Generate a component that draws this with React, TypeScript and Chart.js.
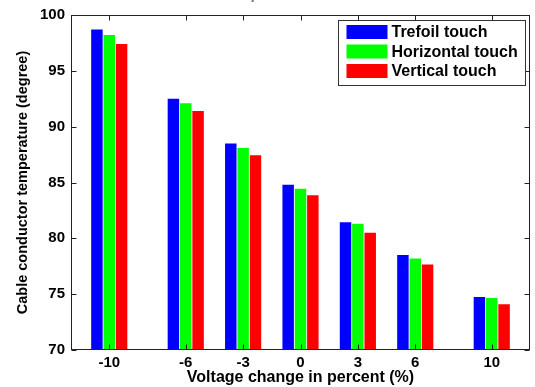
import React, { useEffect, useRef } from 'react';
import { Chart, registerables } from 'chart.js';

Chart.register(...registerables);

const voltageChanges = [-10, -6, -3, 0, 3, 6, 10];
const trefoil = [98.7, 92.5, 88.5, 84.8, 81.45, 78.5, 74.75];
const horizontal = [98.2, 92.1, 88.1, 84.45, 81.3, 78.2, 74.65];
const vertical = [97.4, 91.4, 87.45, 83.85, 80.5, 77.65, 74.1];
const seriesLabels = ['Trefoil touch', 'Horizontal touch', 'Vertical touch'];
const seriesColors = ['#0000ff', '#00ff00', '#ff0000'];
const yTickValues = [70, 75, 80, 85, 90, 95, 100];
const titleText = 'Temperature';
const xTitle = 'Voltage change in percent (%)';
const yTitle = 'Cable conductor temperature (degree)';

const FONT = 'Liberation Sans, Arial, Helvetica, sans-serif';

const framePlugin = {
  id: 'matlabFrame',
  afterDatasetsDraw(chart: any) {
    const { ctx, chartArea } = chart;
    const xs = chart.scales.x;
    const ys = chart.scales.y;
    const left = Math.round(chartArea.left) + 0.5;
    const right = Math.round(chartArea.right) - 0.5;
    const top = Math.round(chartArea.top) + 0.5;
    const bottom = Math.round(chartArea.bottom) - 0.5;
    ctx.save();
    ctx.strokeStyle = '#222';
    ctx.lineWidth = 1;
    ctx.strokeRect(left, top, right - left, bottom - top);
    const tl = 5;
    ctx.beginPath();
    voltageChanges.forEach((v) => {
      const px = Math.round(xs.getPixelForValue(v)) + 0.5;
      ctx.moveTo(px, bottom);
      ctx.lineTo(px, bottom - tl);
      ctx.moveTo(px, top);
      ctx.lineTo(px, top + tl);
    });
    yTickValues.forEach((v) => {
      const py = Math.round(ys.getPixelForValue(v)) + 0.5;
      ctx.moveTo(left, py);
      ctx.lineTo(left + tl, py);
      ctx.moveTo(right, py);
      ctx.lineTo(right - tl, py);
    });
    ctx.stroke();

    // legend
    ctx.font = `bold 16px ${FONT}`;
    let maxW = 0;
    seriesLabels.forEach((l) => {
      maxW = Math.max(maxW, ctx.measureText(l).width);
    });
    const sw = 41;
    const sh = 14;
    const rowH = 19.5;
    const boxRight = Math.round(chartArea.right) - 4.5;
    const boxLeft = Math.round(boxRight - (8 + sw + 4 + maxW + 8)) + 0.5;
    const boxTop = Math.round(chartArea.top) + 5.5;
    const boxBottom = boxTop + 65;
    ctx.fillStyle = '#fff';
    ctx.fillRect(boxLeft, boxTop, boxRight - boxLeft, boxBottom - boxTop);
    ctx.strokeStyle = '#333';
    ctx.strokeRect(boxLeft, boxTop, boxRight - boxLeft, boxBottom - boxTop);
    ctx.textBaseline = 'middle';
    ctx.textAlign = 'left';
    seriesLabels.forEach((l, i) => {
      const y = boxTop + 4.5 + i * rowH;
      ctx.fillStyle = seriesColors[i];
      ctx.fillRect(boxLeft + 8, y, sw, sh);
      ctx.fillStyle = '#000';
      ctx.fillText(l, boxLeft + 8 + sw + 4, y + sh / 2 + 1);
    });

    // clipped title at the very top
    ctx.font = `bold 14px ${FONT}`;
    ctx.textBaseline = 'alphabetic';
    ctx.fillStyle = '#777';
    ctx.fillText(titleText, 223, -1);
    ctx.restore();
  },
};

export default function App() {
  const ref = useRef<HTMLCanvasElement | null>(null);
  useEffect(() => {
    if (!ref.current) return;
    const makeData = (arr: number[]) => arr.map((y, i) => ({ x: voltageChanges[i], y }));
    const chart = new Chart(ref.current, {
      type: 'bar',
      data: {
        datasets: [trefoil, horizontal, vertical].map((arr, i) => ({
          label: seriesLabels[i],
          data: makeData(arr),
          backgroundColor: seriesColors[i],
          borderWidth: 0,
          categoryPercentage: 0.645,
          barPercentage: 0.93,
        })),
      },
      options: {
        responsive: false,
        animation: false,
        layout: { padding: { top: 15, right: 5, left: 0, bottom: 0 } },
        plugins: {
          legend: { display: false },
          tooltip: { enabled: false },
          title: { display: false },
        },
        scales: {
          x: {
            type: 'linear',
            min: -12,
            max: 12,
            offset: false,
            afterBuildTicks: (scale: any) => {
              scale.ticks = voltageChanges.map((v) => ({ value: v }));
            },
            afterFit: (scale: any) => {
              scale.height = 37;
            },
            grid: { display: false, drawTicks: false },
            border: { display: false },
            ticks: {
              padding: 4,
              color: '#000',
              font: { family: FONT, size: 15, weight: 'bold' },
              maxRotation: 0,
              autoSkip: false,
              callback: (v: any) => String(v),
            },
            title: {
              display: true,
              text: xTitle,
              color: '#000',
              font: { family: FONT, size: 16, weight: 'bold' },
              padding: { top: 0, bottom: 0 },
            },
          },
          y: {
            min: 70,
            max: 100,
            afterBuildTicks: (scale: any) => {
              scale.ticks = yTickValues.map((v) => ({ value: v }));
            },
            afterFit: (scale: any) => {
              scale.width = 71;
            },
            grid: { display: false, drawTicks: false },
            border: { display: false },
            ticks: {
              padding: 6,
              color: '#000',
              font: { family: FONT, size: 15, weight: 'bold' },
            },
            title: {
              display: true,
              text: yTitle,
              color: '#000',
              font: { family: FONT, size: 14.5, weight: 'bold' },
              padding: { top: 14, bottom: 0 },
            },
          },
        },
      } as any,
      plugins: [framePlugin],
    });
    return () => chart.destroy();
  }, []);
  return (
    <div style={{ position: 'fixed', left: 0, top: 0, width: 535, height: 387, background: '#fff' }}>
      <canvas ref={ref} width={535} height={387} style={{ display: 'block', width: 535, height: 387 }} />
    </div>
  );
}
